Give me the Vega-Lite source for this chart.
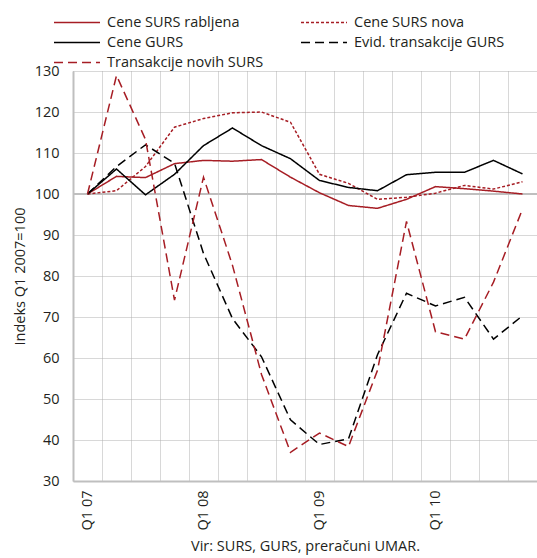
{
  "$schema": "https://vega.github.io/schema/vega-lite/v6.json",
  "width": 464,
  "height": 410,
  "autosize": "none",
  "padding": {"left": 73, "top": 71, "right": 0, "bottom": 77},
  "background": "white",
  "config": {
    "font": "Open Sans",
    "view": {"stroke": null},
    "legend": {
      "orient": "none",
      "legendX": -4.5,
      "legendY": -57,
      "columns": 2,
      "columnPadding": 34,
      "rowPadding": 5,
      "symbolType": "M-3,0H3",
      "symbolSize": 235,
      "symbolStrokeWidth": 1.5,
      "labelFontSize": 14.5,
      "labelOffset": 21.5,
      "labelColor": "#231f20",
      "labelLimit": 300
    }
  },
  "data": {
    "values": [
      {"q": "Q1 07", "s": "Cene SURS rabljena", "v": 100},
      {"q": "Q2 07", "s": "Cene SURS rabljena", "v": 104.3},
      {"q": "Q3 07", "s": "Cene SURS rabljena", "v": 104.0},
      {"q": "Q4 07", "s": "Cene SURS rabljena", "v": 107.4},
      {"q": "Q1 08", "s": "Cene SURS rabljena", "v": 108.2},
      {"q": "Q2 08", "s": "Cene SURS rabljena", "v": 108.0},
      {"q": "Q3 08", "s": "Cene SURS rabljena", "v": 108.4},
      {"q": "Q4 08", "s": "Cene SURS rabljena", "v": 104.1},
      {"q": "Q1 09", "s": "Cene SURS rabljena", "v": 100.3},
      {"q": "Q2 09", "s": "Cene SURS rabljena", "v": 97.2},
      {"q": "Q3 09", "s": "Cene SURS rabljena", "v": 96.5},
      {"q": "Q4 09", "s": "Cene SURS rabljena", "v": 98.7},
      {"q": "Q1 10", "s": "Cene SURS rabljena", "v": 101.8},
      {"q": "Q2 10", "s": "Cene SURS rabljena", "v": 101.3},
      {"q": "Q3 10", "s": "Cene SURS rabljena", "v": 100.7},
      {"q": "Q4 10", "s": "Cene SURS rabljena", "v": 100.0},
      {"q": "Q1 07", "s": "Cene SURS nova", "v": 100},
      {"q": "Q2 07", "s": "Cene SURS nova", "v": 100.8},
      {"q": "Q3 07", "s": "Cene SURS nova", "v": 106.7},
      {"q": "Q4 07", "s": "Cene SURS nova", "v": 116.3},
      {"q": "Q1 08", "s": "Cene SURS nova", "v": 118.4},
      {"q": "Q2 08", "s": "Cene SURS nova", "v": 119.8},
      {"q": "Q3 08", "s": "Cene SURS nova", "v": 120.0},
      {"q": "Q4 08", "s": "Cene SURS nova", "v": 117.5},
      {"q": "Q1 09", "s": "Cene SURS nova", "v": 104.8},
      {"q": "Q2 09", "s": "Cene SURS nova", "v": 102.6},
      {"q": "Q3 09", "s": "Cene SURS nova", "v": 98.7},
      {"q": "Q4 09", "s": "Cene SURS nova", "v": 99.2},
      {"q": "Q1 10", "s": "Cene SURS nova", "v": 100.2},
      {"q": "Q2 10", "s": "Cene SURS nova", "v": 102.1},
      {"q": "Q3 10", "s": "Cene SURS nova", "v": 101.2},
      {"q": "Q4 10", "s": "Cene SURS nova", "v": 103.0},
      {"q": "Q1 07", "s": "Cene GURS", "v": 100},
      {"q": "Q2 07", "s": "Cene GURS", "v": 106.1},
      {"q": "Q3 07", "s": "Cene GURS", "v": 99.8},
      {"q": "Q4 07", "s": "Cene GURS", "v": 104.8},
      {"q": "Q1 08", "s": "Cene GURS", "v": 111.8},
      {"q": "Q2 08", "s": "Cene GURS", "v": 116.1},
      {"q": "Q3 08", "s": "Cene GURS", "v": 111.8},
      {"q": "Q4 08", "s": "Cene GURS", "v": 108.6},
      {"q": "Q1 09", "s": "Cene GURS", "v": 103.3},
      {"q": "Q2 09", "s": "Cene GURS", "v": 101.6},
      {"q": "Q3 09", "s": "Cene GURS", "v": 100.8},
      {"q": "Q4 09", "s": "Cene GURS", "v": 104.7},
      {"q": "Q1 10", "s": "Cene GURS", "v": 105.3},
      {"q": "Q2 10", "s": "Cene GURS", "v": 105.3},
      {"q": "Q3 10", "s": "Cene GURS", "v": 108.2},
      {"q": "Q4 10", "s": "Cene GURS", "v": 104.9},
      {"q": "Q1 07", "s": "Evid. transakcije GURS", "v": 100},
      {"q": "Q2 07", "s": "Evid. transakcije GURS", "v": 106.7},
      {"q": "Q3 07", "s": "Evid. transakcije GURS", "v": 112.0},
      {"q": "Q4 07", "s": "Evid. transakcije GURS", "v": 107.5},
      {"q": "Q1 08", "s": "Evid. transakcije GURS", "v": 85.5},
      {"q": "Q2 08", "s": "Evid. transakcije GURS", "v": 69.6},
      {"q": "Q3 08", "s": "Evid. transakcije GURS", "v": 60.3},
      {"q": "Q4 08", "s": "Evid. transakcije GURS", "v": 44.9},
      {"q": "Q1 09", "s": "Evid. transakcije GURS", "v": 38.9},
      {"q": "Q2 09", "s": "Evid. transakcije GURS", "v": 40.3},
      {"q": "Q3 09", "s": "Evid. transakcije GURS", "v": 60.8},
      {"q": "Q4 09", "s": "Evid. transakcije GURS", "v": 75.8},
      {"q": "Q1 10", "s": "Evid. transakcije GURS", "v": 72.7},
      {"q": "Q2 10", "s": "Evid. transakcije GURS", "v": 74.8},
      {"q": "Q3 10", "s": "Evid. transakcije GURS", "v": 64.6},
      {"q": "Q4 10", "s": "Evid. transakcije GURS", "v": 70.3},
      {"q": "Q1 07", "s": "Transakcije novih SURS", "v": 100},
      {"q": "Q2 07", "s": "Transakcije novih SURS", "v": 128.9},
      {"q": "Q3 07", "s": "Transakcije novih SURS", "v": 113.3},
      {"q": "Q4 07", "s": "Transakcije novih SURS", "v": 74.1},
      {"q": "Q1 08", "s": "Transakcije novih SURS", "v": 104.1},
      {"q": "Q2 08", "s": "Transakcije novih SURS", "v": 82.6},
      {"q": "Q3 08", "s": "Transakcije novih SURS", "v": 56.0},
      {"q": "Q4 08", "s": "Transakcije novih SURS", "v": 37.0},
      {"q": "Q1 09", "s": "Transakcije novih SURS", "v": 41.7},
      {"q": "Q2 09", "s": "Transakcije novih SURS", "v": 38.4},
      {"q": "Q3 09", "s": "Transakcije novih SURS", "v": 57.0},
      {"q": "Q4 09", "s": "Transakcije novih SURS", "v": 93.3},
      {"q": "Q1 10", "s": "Transakcije novih SURS", "v": 66.4},
      {"q": "Q2 10", "s": "Transakcije novih SURS", "v": 64.6},
      {"q": "Q3 10", "s": "Transakcije novih SURS", "v": 78.5},
      {"q": "Q4 10", "s": "Transakcije novih SURS", "v": 96.3}
    ]
  },
  "layer": [
    {
      "mark": {"type": "rule", "color": "#bfbfbf", "strokeWidth": 2},
      "encoding": {"y": {"datum": 100, "type": "quantitative"}}
    },
    {
      "mark": {"type": "line", "strokeWidth": 1.5},
      "encoding": {
        "x": {
          "field": "q",
          "type": "ordinal",
          "sort": null,
          "scale": {"type": "band", "paddingInner": 0, "paddingOuter": 0},
          "axis": {
            "title": "Vir: SURS, GURS, preračuni UMAR.",
            "titleFontSize": 14.5,
            "titleFontWeight": "normal",
            "titleColor": "#231f20",
            "titlePadding": 10,
            "labelExpr": "indexof(datum.value, 'Q1') == 0 ? datum.value : ''",
            "labelAngle": -90,
            "labelPadding": 9,
            "labelFontSize": 14.5,
            "labelColor": "#231f20",
            "ticks": false,
            "bandPosition": 0,
            "grid": true,
            "gridDash": [1, 1],
            "gridColor": "#b0b0b0",
            "domain": true,
            "domainColor": "#bfbfbf",
            "domainWidth": 2
          }
        },
        "y": {
          "field": "v",
          "type": "quantitative",
          "scale": {"domain": [30, 130], "nice": false, "zero": false},
          "axis": {
            "title": "Indeks Q1 2007=100",
            "titleFontSize": 14.5,
            "titleFontWeight": "normal",
            "titleColor": "#231f20",
            "titlePadding": 7,
            "values": [30, 40, 50, 60, 70, 80, 90, 100, 110, 120, 130],
            "labelFontSize": 14.5,
            "labelColor": "#231f20",
            "labelPadding": 14,
            "ticks": false,
            "grid": true,
            "gridDash": [1, 1],
            "gridColor": "#b0b0b0",
            "domain": true,
            "domainColor": "#bfbfbf",
            "domainWidth": 2
          }
        },
        "color": {
          "field": "s",
          "type": "nominal",
          "title": null,
          "scale": {
            "domain": ["Cene SURS rabljena", "Cene GURS", "Transakcije novih SURS", "Cene SURS nova", "Evid. transakcije GURS"],
            "range": ["#a61d24", "#000000", "#a61d24", "#a61d24", "#000000"]
          }
        },
        "strokeDash": {
          "field": "s",
          "type": "nominal",
          "title": null,
          "scale": {
            "domain": ["Cene SURS rabljena", "Cene GURS", "Transakcije novih SURS", "Cene SURS nova", "Evid. transakcije GURS"],
            "range": [[1, 0], [1, 0], [9, 5], [3, 2], [9, 5]]
          }
        }
      }
    }
  ]
}
